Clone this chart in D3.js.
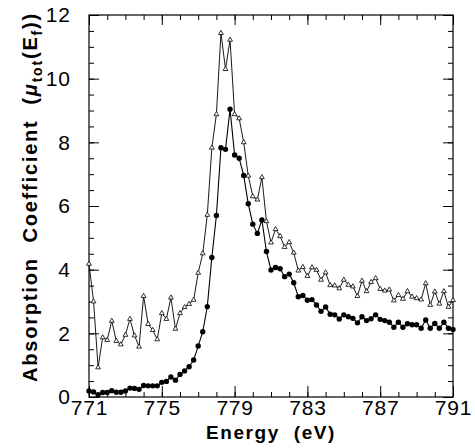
<!DOCTYPE html>
<html>
<head>
<meta charset="utf-8">
<script src="https://cdn.jsdelivr.net/npm/d3@7/dist/d3.min.js"></script>
<style>
  html, body { margin: 0; padding: 0; background: #fff; }
  svg { display: block; }
  .tick text { font-family: "Liberation Sans", Arial, sans-serif; fill: #000; }
  .title { font-family: "Liberation Sans", Arial, sans-serif; font-weight: bold; fill: #000; white-space: pre; }
</style>
</head>
<body>
<svg id="chart" width="475" height="448"></svg>
<script>
// ---- data ----
const energy = [
  771.00, 771.25, 771.50, 771.75, 772.00, 772.25, 772.50, 772.75,
  773.00, 773.25, 773.50, 773.75, 774.00, 774.25, 774.50, 774.75,
  775.00, 775.25, 775.50, 775.75, 776.00, 776.25, 776.50, 776.75,
  777.00, 777.25, 777.50, 777.75, 778.00, 778.25, 778.50, 778.75,
  779.00, 779.25, 779.50, 779.75, 780.00, 780.25, 780.50, 780.75,
  781.00, 781.25, 781.50, 781.75, 782.00, 782.25, 782.50, 782.75,
  783.00, 783.25, 783.50, 783.75, 784.00, 784.25, 784.50, 784.75,
  785.00, 785.25, 785.50, 785.75, 786.00, 786.25, 786.50, 786.75,
  787.00, 787.25, 787.50, 787.75, 788.00, 788.25, 788.50, 788.75,
  789.00, 789.25, 789.50, 789.75, 790.00, 790.25, 790.50, 790.75,
  791.00
];
const openSeries = [
  4.18, 3.00, 0.93, 1.87, 1.79, 2.39, 1.76, 1.65,
  1.95, 2.45, 1.93, 1.58, 3.17, 2.29, 2.10, 1.81,
  2.63, 2.45, 3.12, 2.14, 2.63, 2.82, 2.92, 3.05,
  3.90, 4.51, 5.72, 7.83, 8.88, 11.43, 10.30, 11.22,
  8.88, 8.75, 8.00, 6.95, 6.30, 6.20, 6.90, 5.52,
  4.85, 5.27, 5.05, 4.71, 4.86, 4.53, 3.97, 4.08,
  3.80, 4.07, 3.99, 3.68, 3.91, 3.51, 3.50, 3.41,
  3.68, 3.52, 3.47, 3.17, 3.65, 3.32, 3.61, 3.73,
  3.39, 3.34, 3.37, 3.03, 3.20, 3.08, 3.32, 3.15,
  3.10, 3.06, 3.57, 2.89, 3.31, 2.93, 3.32, 2.83,
  3.04
];
const filledSeries = [
  0.19, 0.16, 0.07, 0.14, 0.14, 0.20, 0.15, 0.15,
  0.19, 0.28, 0.27, 0.24, 0.36, 0.35, 0.35, 0.35,
  0.46, 0.49, 0.63, 0.53, 0.71, 0.82, 0.95, 1.16,
  1.60, 2.05, 2.84, 4.38, 5.70, 7.83, 7.78, 9.04,
  7.60, 7.50, 6.96, 6.07, 5.43, 5.14, 5.56, 4.57,
  3.99, 4.07, 4.03, 3.78, 3.86, 3.59, 3.15, 3.19,
  3.04, 3.06, 2.89, 2.69, 2.83, 2.60, 2.58, 2.45,
  2.58, 2.52, 2.47, 2.33, 2.52, 2.40, 2.46, 2.58,
  2.44, 2.40, 2.35, 2.19, 2.35, 2.19, 2.30, 2.27,
  2.27, 2.16, 2.42, 2.16, 2.31, 2.16, 2.35, 2.16,
  2.12
];
const xTickLabels = [771, 775, 779, 783, 787, 791];
const xMinorTicks = [771, 772, 773, 774, 775, 776, 777, 778, 779, 780, 781, 782, 783, 784, 785, 786, 787, 788, 789, 790, 791];
const yTickLabels = [0, 2, 4, 6, 8, 10, 12];
const yMinorTicks = [0, 0.5, 1, 1.5, 2, 2.5, 3, 3.5, 4, 4.5, 5, 5.5, 6, 6.5, 7, 7.5, 8, 8.5, 9, 9.5, 10, 10.5, 11, 11.5, 12];

// ---- layout ----
const L = 89, R = 453, T = 15, B = 397;
const svg = d3.select("#chart");
const x = d3.scaleLinear().domain([771, 791]).range([L, R]);
const y = d3.scaleLinear().domain([0, 12]).range([B, T]);

function styleAxis(g) {
  g.select(".domain").remove();
  g.selectAll(".tick line").attr("stroke", "#000").attr("stroke-width", 1);
}

// minor ticks (all four sides)
svg.append("g").attr("transform", `translate(0,${B})`)
  .call(d3.axisBottom(x).tickValues(xMinorTicks).tickSize(-5).tickFormat(""))
  .call(styleAxis);
svg.append("g").attr("transform", `translate(0,${T})`)
  .call(d3.axisTop(x).tickValues(xMinorTicks).tickSize(-5).tickFormat(""))
  .call(styleAxis);
svg.append("g").attr("transform", `translate(${L},0)`)
  .call(d3.axisLeft(y).tickValues(yMinorTicks).tickSize(-5).tickFormat(""))
  .call(styleAxis);
svg.append("g").attr("transform", `translate(${R},0)`)
  .call(d3.axisRight(y).tickValues(yMinorTicks).tickSize(-5).tickFormat(""))
  .call(styleAxis);

// major ticks with labels
svg.append("g").attr("transform", `translate(0,${B})`)
  .call(d3.axisBottom(x).tickValues(xTickLabels).tickSize(-11).tickPadding(3).tickFormat(d3.format("d")))
  .call(styleAxis)
  .call(g => g.selectAll(".tick text").attr("font-size", 21).attr("letter-spacing", "0.8px"));
svg.append("g").attr("transform", `translate(0,${T})`)
  .call(d3.axisTop(x).tickValues(xTickLabels).tickSize(-10).tickFormat(""))
  .call(styleAxis);
svg.append("g").attr("transform", `translate(${L},0)`)
  .call(d3.axisLeft(y).tickValues(yTickLabels).tickSize(-10).tickPadding(18).tickFormat(d3.format("d")))
  .call(styleAxis)
  .call(g => g.selectAll(".tick text").attr("font-size", 21).attr("letter-spacing", "1px"));
svg.append("g").attr("transform", `translate(${R},0)`)
  .call(d3.axisRight(y).tickValues(yTickLabels).tickSize(-10).tickFormat(""))
  .call(styleAxis);

// frame
svg.append("rect").attr("x", L).attr("y", T).attr("width", R - L).attr("height", B - T)
  .attr("fill", "none").attr("stroke", "#000").attr("stroke-width", 1.2);

// series
const line = d3.line().x(d => x(d[0])).y(d => y(d[1]));
const openData = energy.map((e, i) => [e, openSeries[i]]);
const filledData = energy.map((e, i) => [e, filledSeries[i]]);

svg.append("path").datum(openData).attr("d", line)
  .attr("fill", "none").attr("stroke", "#000").attr("stroke-width", 0.9);
svg.append("path").datum(filledData).attr("d", line)
  .attr("fill", "none").attr("stroke", "#000").attr("stroke-width", 1.1);

const tri = d3.symbol().type(d3.symbolTriangle).size(10);
svg.append("g").selectAll("path").data(openData).join("path")
  .attr("d", tri)
  .attr("transform", d => `translate(${x(d[0])},${y(d[1])})`)
  .attr("fill", "#fff").attr("stroke", "#000").attr("stroke-width", 0.8);

svg.append("g").selectAll("circle").data(filledData).join("circle")
  .attr("cx", d => x(d[0])).attr("cy", d => y(d[1])).attr("r", 2.7)
  .attr("fill", "#000");

// axis titles
svg.append("text").attr("class", "title")
  .attr("x", (L + R) / 2).attr("y", 439)
  .attr("text-anchor", "middle").attr("font-size", 19).attr("letter-spacing", "1.6px")
  .text("Energy  (eV)");

const yt = svg.append("text").attr("class", "title")
  .attr("transform", `translate(37,${197}) rotate(-90)`)
  .attr("text-anchor", "middle").attr("font-size", 20).attr("letter-spacing", "1.8px");
yt.append("tspan").text("Absorption  Coefficient  (");
yt.append("tspan").attr("font-style", "italic").text("\u03BC");
yt.append("tspan").attr("font-size", 14).attr("dy", 5).text("tot");
yt.append("tspan").attr("dy", -5).text("(E");
yt.append("tspan").attr("font-size", 14).attr("dy", 5).text("f");
yt.append("tspan").attr("dy", -5).text("))");
</script>
</body>
</html>
